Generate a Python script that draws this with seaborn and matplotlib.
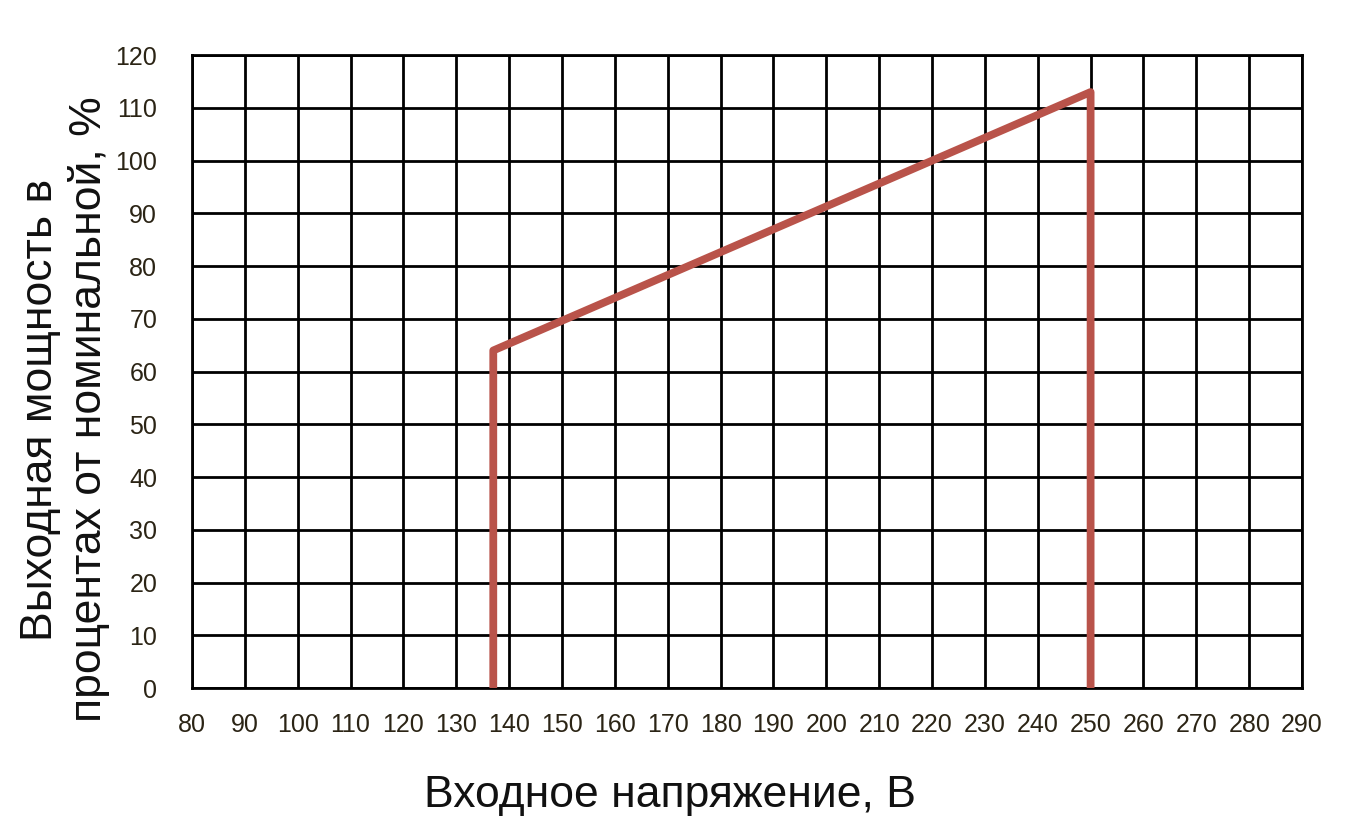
import pandas as pd
import seaborn as sns
import matplotlib.pyplot as plt

# данные кривой (входное напряжение, В -> мощность, %)
volt = [137, 137, 250, 250]
power = [0, 64, 113, 0]
x_ticks = list(range(80, 291, 10))
y_ticks = list(range(0, 121, 10))

df = pd.DataFrame({"U": volt, "P": power, "step": [0] * len(volt)})

sns.set_theme(style="white")
plt.rcParams['font.family'] = ['Liberation Sans', 'DejaVu Sans']

fig = plt.figure(figsize=(13.49, 8.35), dpi=100)
ax = fig.add_axes([0.1423, 0.176, 0.8229, 0.758])

sns.lineplot(data=df, x="U", y="P", units="step", estimator=None, sort=False,
             color="#b9534a", linewidth=5.6, ax=ax, zorder=5)

ax.set_xlim(80, 290)
ax.set_ylim(0, 120)
ax.set_xticks(x_ticks)
ax.set_yticks(y_ticks)
ax.grid(True, color="black", linewidth=2.0)
for s in ax.spines.values():
    s.set_color("black")
    s.set_linewidth(2.0)

tick_font = dict(size=18, color="#2b2415")
ax.set_xticklabels([str(t) for t in x_ticks], **tick_font)
ax.set_yticklabels([str(t) for t in y_ticks], **tick_font)
ax.tick_params(axis="x", length=0, pad=18)
ax.tick_params(axis="y", length=0, pad=25)

ax.set_xlabel("Входное напряжение, В", fontsize=32, color="#111111")
ax.xaxis.set_label_coords(0.431, -0.137)
ax.set_ylabel("Выходная мощность в\nпроцентах от номинальной, %", fontsize=32,
              color="#111111", linespacing=1.2)
ax.yaxis.set_label_coords(-0.074, 0.44)

fig.savefig("out.png", dpi=100)
